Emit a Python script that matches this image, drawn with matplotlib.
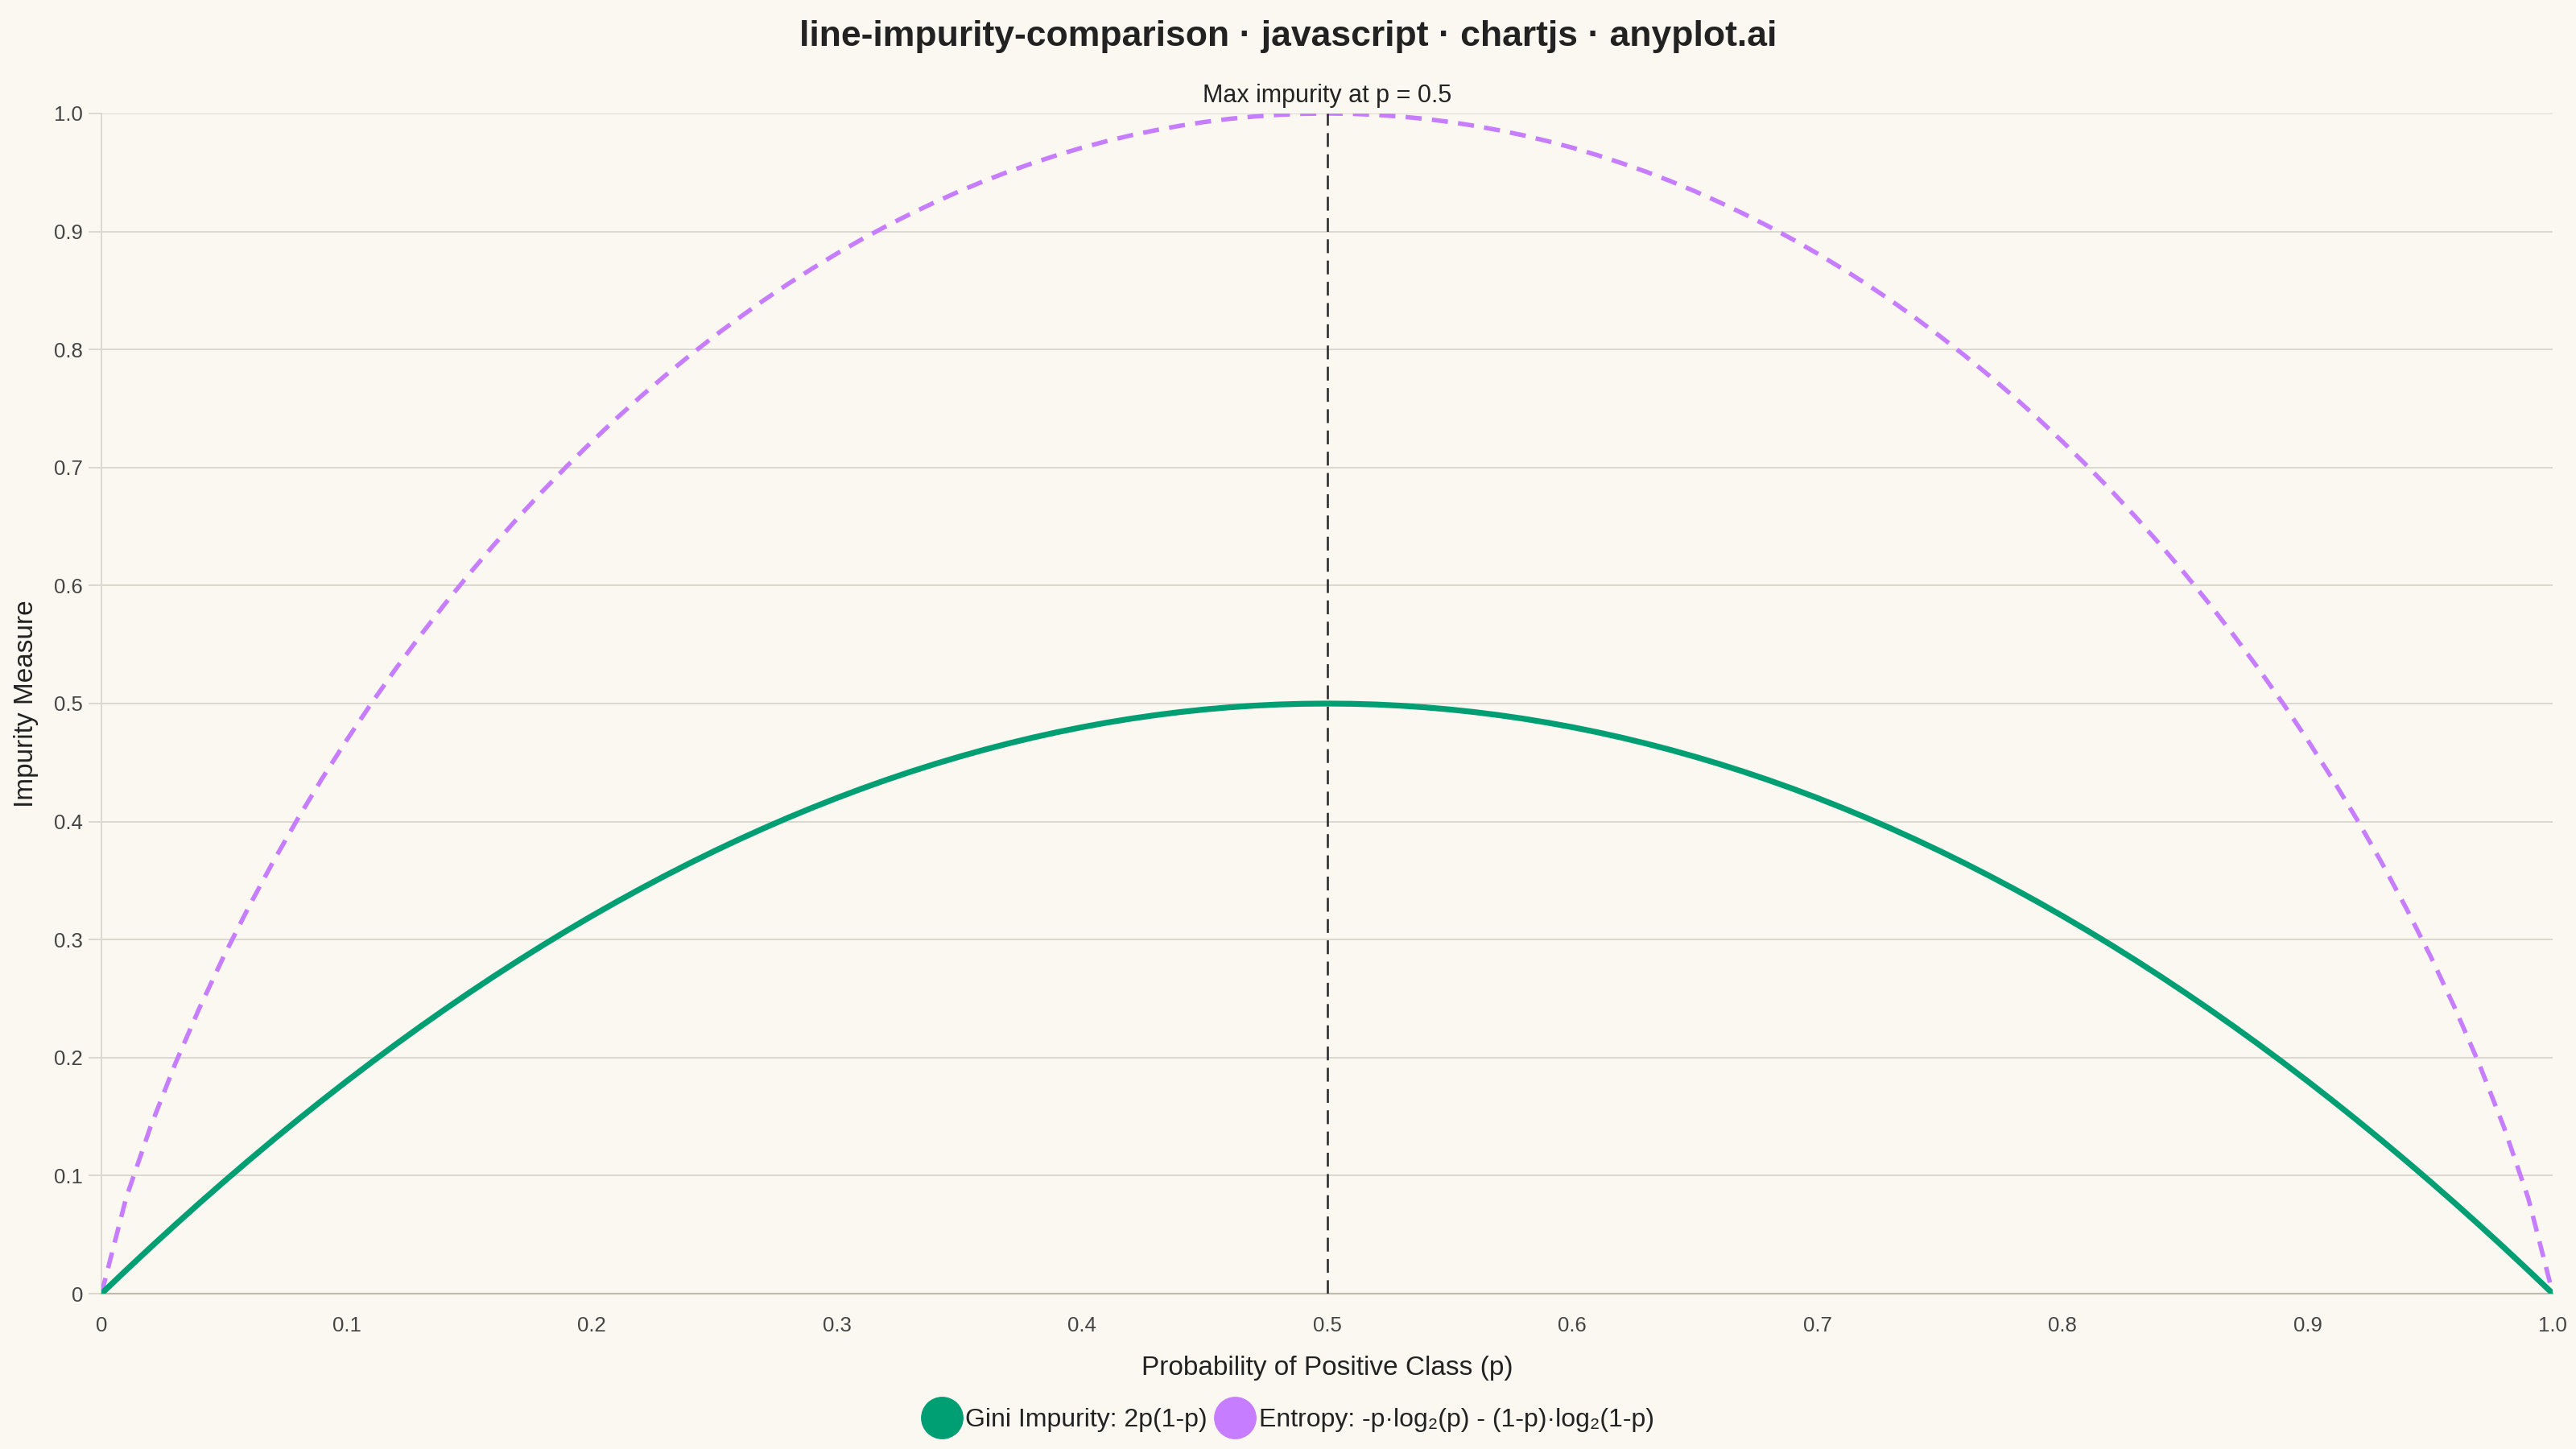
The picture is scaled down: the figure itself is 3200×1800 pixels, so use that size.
import matplotlib
matplotlib.use("Agg")
import matplotlib.pyplot as plt
from matplotlib.lines import Line2D

plt.rcParams['font.family'] = ['Liberation Sans', 'DejaVu Sans']

# probability of the positive class
p_values = [
    0.00, 0.01, 0.02, 0.03, 0.04, 0.05, 0.06, 0.07, 0.08, 0.09,
    0.10, 0.11, 0.12, 0.13, 0.14, 0.15, 0.16, 0.17, 0.18, 0.19,
    0.20, 0.21, 0.22, 0.23, 0.24, 0.25, 0.26, 0.27, 0.28, 0.29,
    0.30, 0.31, 0.32, 0.33, 0.34, 0.35, 0.36, 0.37, 0.38, 0.39,
    0.40, 0.41, 0.42, 0.43, 0.44, 0.45, 0.46, 0.47, 0.48, 0.49,
    0.50, 0.51, 0.52, 0.53, 0.54, 0.55, 0.56, 0.57, 0.58, 0.59,
    0.60, 0.61, 0.62, 0.63, 0.64, 0.65, 0.66, 0.67, 0.68, 0.69,
    0.70, 0.71, 0.72, 0.73, 0.74, 0.75, 0.76, 0.77, 0.78, 0.79,
    0.80, 0.81, 0.82, 0.83, 0.84, 0.85, 0.86, 0.87, 0.88, 0.89,
    0.90, 0.91, 0.92, 0.93, 0.94, 0.95, 0.96, 0.97, 0.98, 0.99,
    1.00,
]

gini_values = [
    0.0000, 0.0198, 0.0392, 0.0582, 0.0768, 0.0950, 0.1128, 0.1302, 0.1472, 0.1638,
    0.1800, 0.1958, 0.2112, 0.2262, 0.2408, 0.2550, 0.2688, 0.2822, 0.2952, 0.3078,
    0.3200, 0.3318, 0.3432, 0.3542, 0.3648, 0.3750, 0.3848, 0.3942, 0.4032, 0.4118,
    0.4200, 0.4278, 0.4352, 0.4422, 0.4488, 0.4550, 0.4608, 0.4662, 0.4712, 0.4758,
    0.4800, 0.4838, 0.4872, 0.4902, 0.4928, 0.4950, 0.4968, 0.4982, 0.4992, 0.4998,
    0.5000, 0.4998, 0.4992, 0.4982, 0.4968, 0.4950, 0.4928, 0.4902, 0.4872, 0.4838,
    0.4800, 0.4758, 0.4712, 0.4662, 0.4608, 0.4550, 0.4488, 0.4422, 0.4352, 0.4278,
    0.4200, 0.4118, 0.4032, 0.3942, 0.3848, 0.3750, 0.3648, 0.3542, 0.3432, 0.3318,
    0.3200, 0.3078, 0.2952, 0.2822, 0.2688, 0.2550, 0.2408, 0.2262, 0.2112, 0.1958,
    0.1800, 0.1638, 0.1472, 0.1302, 0.1128, 0.0950, 0.0768, 0.0582, 0.0392, 0.0198,
    0.0000,
]

entropy_values = [
    0.0000, 0.0808, 0.1414, 0.1944, 0.2423, 0.2864, 0.3274, 0.3659, 0.4022, 0.4365,
    0.4690, 0.4999, 0.5294, 0.5574, 0.5842, 0.6098, 0.6343, 0.6577, 0.6801, 0.7015,
    0.7219, 0.7415, 0.7602, 0.7780, 0.7950, 0.8113, 0.8267, 0.8415, 0.8555, 0.8687,
    0.8813, 0.8932, 0.9044, 0.9149, 0.9248, 0.9341, 0.9427, 0.9507, 0.9580, 0.9648,
    0.9710, 0.9765, 0.9815, 0.9858, 0.9896, 0.9928, 0.9954, 0.9974, 0.9988, 0.9997,
    1.0000, 0.9997, 0.9988, 0.9974, 0.9954, 0.9928, 0.9896, 0.9858, 0.9815, 0.9765,
    0.9710, 0.9648, 0.9580, 0.9507, 0.9427, 0.9341, 0.9248, 0.9149, 0.9044, 0.8932,
    0.8813, 0.8687, 0.8555, 0.8415, 0.8267, 0.8113, 0.7950, 0.7780, 0.7602, 0.7415,
    0.7219, 0.7015, 0.6801, 0.6577, 0.6343, 0.6098, 0.5842, 0.5574, 0.5294, 0.4999,
    0.4690, 0.4365, 0.4022, 0.3659, 0.3274, 0.2864, 0.2423, 0.1944, 0.1414, 0.0808,
    0.0000,
]

tick_values = [0.0, 0.1, 0.2, 0.3, 0.4, 0.5, 0.6, 0.7, 0.8, 0.9, 1.0]
tick_labels = ['0', '0.1', '0.2', '0.3', '0.4', '0.5', '0.6', '0.7', '0.8', '0.9', '1.0']

gini_label = 'Gini Impurity: 2p(1-p)'
entropy_label = 'Entropy: -p\u00b7log\u2082(p) - (1-p)\u00b7log\u2082(1-p)'
max_p = 0.5

BG = '#FAF8F1'
GRID = '#DAD8CF'
GREEN = '#009E73'
PURPLE = '#C77DFF'
TEXT = '#222222'
TICK_TEXT = '#444444'

fig = plt.figure(figsize=(32, 18), dpi=100, facecolor=BG)
ax = fig.add_axes([0.0394, 0.1072, 0.9516, 0.8145])
ax.set_facecolor(BG)

ax.plot(p_values, entropy_values, color=PURPLE, lw=4.0,
        linestyle=(0, (3.6, 2.3)), dash_capstyle='butt', zorder=3)
ax.plot(p_values, gini_values, color=GREEN, lw=5.2, zorder=4,
        solid_capstyle='round', solid_joinstyle='round')

# marker at the maximum
ax.axvline(max_p, color='#2E2E2E', lw=1.9, linestyle=(0, (6.5, 3.5)), zorder=5)
ax.annotate('Max impurity at p = 0.5', xy=(max_p, 1.0), xytext=(0, 7),
            textcoords='offset pixels', ha='center', va='bottom',
            fontsize=22, color=TEXT)

ax.set_xlim(0, 1)
ax.set_ylim(0, 1)
ax.set_xticks(tick_values)
ax.set_xticklabels(tick_labels)
ax.set_yticks(tick_values)
ax.set_yticklabels(tick_labels)

ax.tick_params(axis='x', length=0, pad=20, labelsize=18.5, labelcolor=TICK_TEXT)
ax.tick_params(axis='y', length=11.5, width=1.4, color=GRID, pad=5,
               labelsize=18.5, labelcolor=TICK_TEXT)
ax.yaxis.get_major_ticks()[0].tick1line.set_color('#BDBAB2')

ax.yaxis.grid(True, color=GRID, lw=1.4)
ax.xaxis.grid(False)
ax.set_axisbelow(True)
for side in ['top', 'right']:
    ax.spines[side].set_visible(False)
ax.spines['left'].set_color(GRID)
ax.spines['left'].set_linewidth(1.4)
ax.spines['bottom'].set_color('#BDBAB2')
ax.spines['bottom'].set_linewidth(1.6)

ax.set_xlabel('Probability of Positive Class (p)', fontsize=24, color=TEXT, labelpad=18)
ax.set_ylabel('Impurity Measure', fontsize=24, color=TEXT, labelpad=14)

fig.text(0.5, 1 - 45 / 1800, 'line-impurity-comparison \u00b7 javascript \u00b7 chartjs \u00b7 anyplot.ai',
         ha='center', va='center', fontsize=32, fontweight='bold', color=TEXT)

handles = [
    Line2D([], [], marker='o', linestyle='', markersize=37, color=GREEN, label=gini_label),
    Line2D([], [], marker='o', linestyle='', markersize=37, color=PURPLE, label=entropy_label),
]
fig.legend(handles=handles, loc='center', bbox_to_anchor=(0.5, 1 - 1764 / 1800),
           ncol=2, frameon=False, fontsize=23, handletextpad=0.15,
           columnspacing=0.3, handlelength=1.55, labelcolor=TEXT)

fig.savefig('out.png', dpi=100, facecolor=BG)
